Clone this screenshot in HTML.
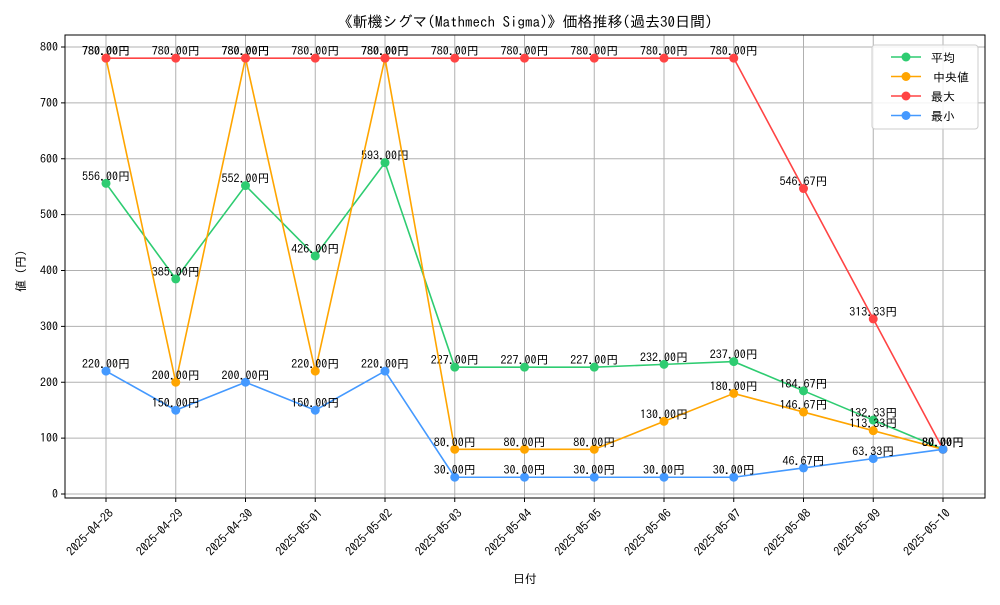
<!DOCTYPE html>
<html><head><meta charset="utf-8"><style>
body{margin:0;background:#fff}
text{font-family:"IPAGothic","Liberation Sans","Noto Sans CJK JP",sans-serif;fill:#000}
</style></head><body>
<svg id="chart" width="1000" height="600" xmlns="http://www.w3.org/2000/svg">
<rect width="1000" height="600" fill="#fff"/>
<text x="525" y="27" font-size="15" text-anchor="middle">《斬機シグマ(Mathmech Sigma)》価格推移(過去30日間)</text>
<g id="grid"></g><g id="axes"></g><g id="series"></g>
<text x="525" y="583" font-size="12" text-anchor="middle">日付</text>
<text transform="translate(25,271) rotate(-90)" font-size="12" text-anchor="middle">値 (円)</text>
<g id="legend"></g>
</svg>
<script>
const categories=["2025-04-28","2025-04-29","2025-04-30","2025-05-01","2025-05-02","2025-05-03","2025-05-04","2025-05-05","2025-05-06","2025-05-07","2025-05-08","2025-05-09","2025-05-10"];
const avgValues=[556,385,552,426,593,227,227,227,232,237,184.67,132.33,80];
const medianValues=[780,200,780,220,780,80,80,80,130,180,146.67,113.33,80];
const maxValues=[780,780,780,780,780,780,780,780,780,780,546.67,313.33,80];
const minValues=[220,150,200,150,220,30,30,30,30,30,46.67,63.33,80];
const yTicks=[0,100,200,300,400,500,600,700,800];
const seriesNames=["平均","中央値","最大","最小"];
const NS="http://www.w3.org/2000/svg";
const L=65,R=985,T=35,B=498;
const x=i=>106+i*(943-106)/(categories.length-1);
const y=v=>494-v*(494-47)/800;
function mk(tag,attrs,parent){const e=document.createElementNS(NS,tag);for(const k in attrs)e.setAttribute(k,attrs[k]);parent.appendChild(e);return e;}
const grid=document.getElementById('grid'),axes=document.getElementById('axes'),ser=document.getElementById('series'),leg=document.getElementById('legend');
categories.forEach((c,i)=>{
 const g=mk('line',{x1:x(i),x2:x(i),y1:T,y2:B,stroke:'#b0b0b0','stroke-width':1},grid);
 
 mk('line',{x1:x(i),x2:x(i),y1:B,y2:B+4,stroke:'#000'},axes);
 const t=mk('text',{x:x(i)+8,y:514,'font-size':12,'text-anchor':'end',transform:`rotate(-45 ${x(i)+8} 514)`},axes);
 
 t.textContent=c;
});
yTicks.forEach(v=>{
 const g=mk('line',{x1:L,x2:R,y1:y(v),y2:y(v),stroke:'#b0b0b0','stroke-width':1},grid);
 
 mk('line',{x1:L-4,x2:L,y1:y(v),y2:y(v),stroke:'#000'},axes);
 const t=mk('text',{x:L-7,y:y(v)+4,'font-size':12,'text-anchor':'end'},axes);
 
 t.textContent=v;
});
const frame=mk('rect',{x:L,y:T,width:R-L,height:B-T,fill:'none',stroke:'#000','stroke-width':1},axes);

const all=[[avgValues,'#2ecc71','avg'],[medianValues,'#ffa500','median'],[maxValues,'#ff4444','max'],[minValues,'#4499ff','min']];
all.forEach(([vals,col,nm])=>{
 const g=mk('g',{},ser);
 
 const p=mk('polyline',{points:vals.map((v,i)=>x(i)+','+y(v)).join(' '),fill:'none',stroke:col,'stroke-width':1.6},g);
 
 vals.forEach((v,i)=>{
  const c=mk('circle',{cx:x(i),cy:y(v),r:4.5,fill:col},g);
  
  const t=mk('text',{x:x(i),y:y(v)-3,'font-size':12,'text-anchor':'middle'},g);
  
  t.textContent=v.toFixed(2)+'円';
 });
});
const lb=mk('rect',{x:872,y:45,width:106,height:84,rx:3,fill:'#fff','fill-opacity':0.85,stroke:'#ccc'},leg);

all.forEach(([v,col,nm],k)=>{
 const yy=57+k*19.5;
 const g=mk('g',{},leg);
 
 mk('line',{x1:891,x2:921,y1:yy,y2:yy,stroke:col,'stroke-width':1.6},g);
 mk('circle',{cx:906,cy:yy,r:4.5,fill:col},g);
 const t=mk('text',{x:k==1?933:931,y:yy+5,'font-size':12},g);
 t.textContent=seriesNames[k];
});
</script>
</body></html>
